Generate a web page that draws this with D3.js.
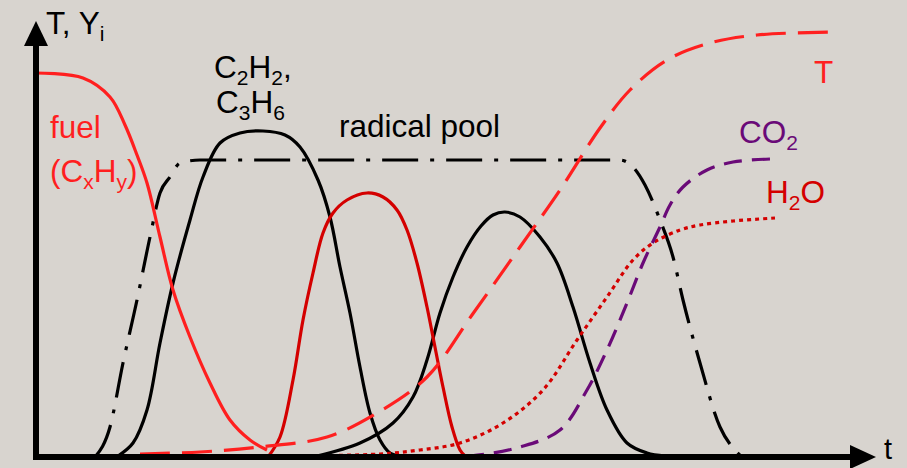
<!DOCTYPE html>
<html lang="en">
<head>
    <meta charset="UTF-8">
    <title>T, Yi</title>
    <script src="https://d3js.org/d3.v7.min.js"></script>
    <style>
        body { margin: 0; background: #d8d4cf; }
        svg { display: block; }
        text { font-family: "Liberation Sans", Arial, sans-serif; }
    </style>
</head>
<body>
<script>
    /* curves: t (time units) and v (T or Y_i, % of scale) */
    const fuelT = [0, 4.7, 7.4, 8.9, 10.1, 11.1, 12.4, 13.7, 15.4, 17.4, 19.4, 21.4, 23.1];
    const fuelV = [96, 94.75, 90, 83, 75.5, 68.5, 55, 41.75, 30, 18.5, 9.25, 4.25, 1.75];

    const c2h2T = [8.2, 9.7, 11.1, 12.4, 13.7, 15.4, 16.7, 18.4, 20.4, 22.7, 24.9, 26.4, 28.2, 29.4, 30.4, 31.4, 32.4, 33.4, 34.4, 35.4, 36.4];
    const c2h2V = [0.25, 3.5, 11.75, 28.5, 43.5, 59.25, 70, 78.5, 81, 81.5, 80.5, 77.5, 69.25, 60, 47.5, 36, 22.5, 11, 4.25, 1, 0.25];

    const poolT = [5.9, 7.4, 8.7, 10.1, 11.4, 12.4, 13.4, 14.4, 16.4, 36.4, 58.4, 59.7, 60.9, 62.4, 63.7, 64.7, 66.4, 68.4, 69.7, 70.6];
    const poolV = [0, 7.5, 23.5, 39.25, 55, 66, 70, 73.5, 74.25, 74.25, 74.25, 72.5, 68, 59.25, 50, 39.25, 23.5, 7.5, 2.25, 0];

    const midT = [23.2, 24.4, 25.7, 26.7, 27.7, 28.7, 29.7, 31.1, 33.1, 34.7, 36.1, 37.1, 38.1, 39.1, 39.7, 40.7, 41.6, 42.4, 43.0];
    const midV = [0, 5, 19.25, 34.25, 46, 56, 61, 64.25, 66, 65, 61.75, 56.75, 48.5, 37.5, 30, 17.5, 7.5, 1.75, 0];

    const lateT = [28.1, 32.4, 35.7, 37.7, 39.1, 40.4, 41.7, 43.1, 44.5, 45.7, 46.9, 48.4, 50.4, 52.1, 53.7, 55.4, 57.1, 59.1, 61.1, 62.9];
    const lateV = [0.25, 3.5, 8.5, 15, 24.25, 36, 45, 52.5, 57.75, 60.5, 61.25, 60, 55, 48.5, 37.5, 23.5, 11.75, 3.5, 1, 0.25];

    const tempT = [10.4, 16.4, 22.4, 29.1, 34.1, 39.1, 43.6, 48.4, 52.4, 56.4, 59.4, 63.1, 67.4, 72.1, 80.1];
    const tempV = [0.75, 1.25, 2.5, 5, 11, 20, 35.5, 52.5, 66.75, 82.25, 91.75, 99.25, 103.5, 105.5, 106.25];

    const co2T = [37.4, 43.4, 48.4, 52.4, 55.1, 57.1, 59.1, 60.7, 62.4, 63.4, 64.7, 67.1, 69.7, 73.4];
    const co2V = [0, 0.25, 2.5, 6.75, 16.75, 26.75, 38.5, 48.5, 57.5, 63, 67.5, 71.75, 73.75, 74.5];

    const h2oT = [27.1, 34.4, 38.4, 42.4, 46.7, 50.7, 54.1, 57.1, 59.7, 61.7, 64.4, 66.4, 69.7, 73.9];
    const h2oV = [0.25, 0.75, 1.75, 3.5, 8.5, 16.75, 29.25, 40, 49.25, 53.5, 56.75, 58, 59, 59.75];

    const width = 907, height = 468;

    let svg = d3.select("body").append("svg")
        .attr("width", width)
        .attr("height", height);

    svg.append("rect")
        .attr("width", width).attr("height", height)
        .attr("fill", "#d8d4cf");

    /* 比例尺 */
    let x = d3.scaleLinear().domain([0, 82]).range([36, 856]);
    let y = d3.scaleLinear().domain([0, 100]).range([457, 57]);

    function drawCurve(ts, vs, color, dash, curve) {
        let line = d3.line()
            .x(d => x(d[0]))
            .y(d => y(d[1]))
            .curve(curve || d3.curveCatmullRom.alpha(0.5));
        svg.append("path")
            .datum(d3.zip(ts, vs))
            .attr("d", line)
            .attr("fill", "none")
            .attr("stroke", color)
            .attr("stroke-width", 3.2)
            .attr("stroke-dasharray", dash || null);
    }

    drawCurve(poolT, poolV, "#000", "36,12,4,12", d3.curveMonotoneX);
    drawCurve(c2h2T, c2h2V, "#000");
    drawCurve(lateT, lateV, "#000");
    drawCurve(fuelT, fuelV, "#ff1f1f");
    drawCurve(midT, midV, "#d40000");
    drawCurve(h2oT, h2oV, "#d40000", "4,4");
    drawCurve(co2T, co2V, "#6a0a78", "18,10");
    drawCurve(tempT, tempV, "#ff2020", "30,12");

    /* 坐标轴 + 箭头 */
    let x0 = x(0), yb = y(0);
    svg.append("line")
        .attr("x1", x0).attr("y1", yb + 3)
        .attr("x2", x0).attr("y2", 40)
        .attr("stroke", "#000").attr("stroke-width", 6);
    svg.append("line")
        .attr("x1", x0 - 3).attr("y1", yb)
        .attr("x2", 855).attr("y2", yb)
        .attr("stroke", "#000").attr("stroke-width", 6);
    svg.append("path")
        .attr("d", `M${x0 - 12},46 L${x0},21 L${x0 + 12},46 Z`)
        .attr("fill", "#000");
    svg.append("path")
        .attr("d", `M850,${yb - 12} L876,${yb} L850,${yb + 12} Z`)
        .attr("fill", "#000");

    /* 文字 */
    function label(px, py, parts, color, size) {
        let t = svg.append("text")
            .attr("x", px).attr("y", py)
            .attr("fill", color)
            .style("font-size", (size || 31.5) + "px");
        parts.forEach(p => {
            let s = t.append("tspan").text(p[0]);
            if (p[1] === "sub") {
                s.attr("dy", 7).style("font-size", "21px");
            } else if (p[1] === "up") {
                s.attr("dy", -7);
            }
        });
    }

    label(46, 34, [["T, Y"], ["i", "sub"]], "#000");
    label(214, 78, [["C"], ["2", "sub"], ["H", "up"], ["2", "sub"], [",", "up"]], "#000");
    label(216, 113, [["C"], ["3", "sub"], ["H", "up"], ["6", "sub"]], "#000");
    label(339, 137, [["radical pool"]], "#000");
    label(50, 138, [["fuel"]], "#ff1f1f");
    label(50, 182, [["(C"], ["x", "sub"], ["H", "up"], ["y", "sub"], [")", "up"]], "#ff1f1f");
    label(814, 83, [["T"]], "#ff2020");
    label(739, 143, [["CO"], ["2", "sub"]], "#6a0a78");
    label(766, 203, [["H"], ["2", "sub"], ["O", "up"]], "#d40000");
    label(884, 459, [["t"]], "#000", 29);
</script>
</body>
</html>
